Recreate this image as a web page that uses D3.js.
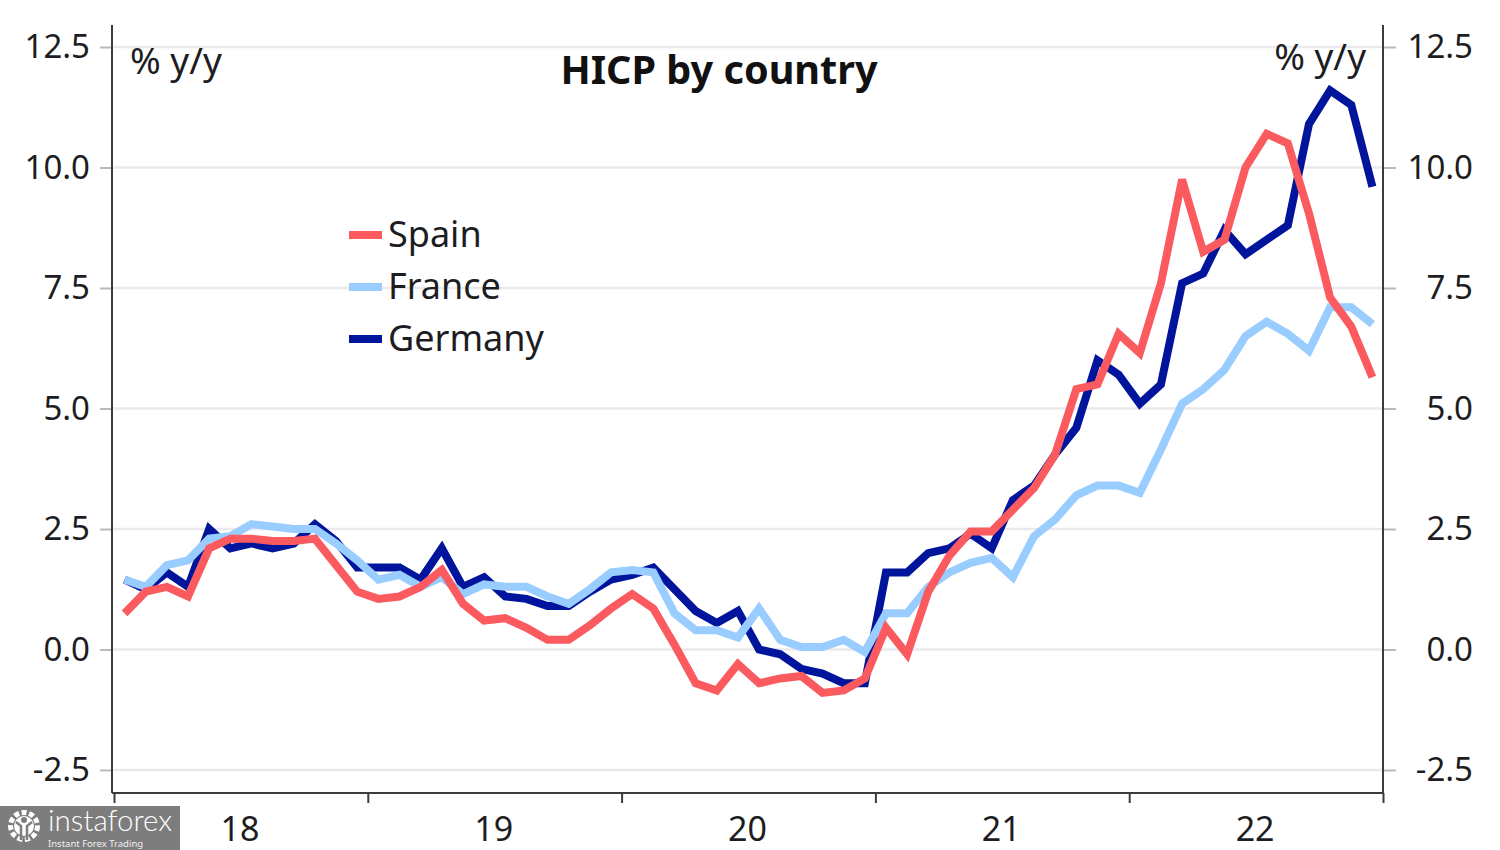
<!DOCTYPE html>
<html>
<head>
<meta charset="utf-8">
<script src="https://cdn.jsdelivr.net/npm/d3@7"></script>
<style>
  html, body { margin: 0; padding: 0; background: #fff; }
  svg { display: block; }
  text { font-family: "Noto Sans", sans-serif; fill: #1d1d1f; }
</style>
</head>
<body>
<div class="chart"></div>
<script>
// monthly values, Jan 18 to Dec 22
var spain = [0.75,1.2,1.3,1.1,2.1,2.3,2.3,2.25,2.25,2.3,1.75,1.2,
  1.05,1.1,1.3,1.65,0.95,0.6,0.65,0.45,0.2,0.2,0.5,0.85,
  1.15,0.85,0.1,-0.7,-0.85,-0.3,-0.7,-0.6,-0.55,-0.9,-0.85,-0.6,
  0.45,-0.1,1.2,1.95,2.45,2.45,2.9,3.35,4.05,5.4,5.5,6.55,
  6.15,7.6,9.75,8.25,8.5,10.0,10.7,10.5,9.05,7.3,6.7,5.65];
var france = [1.45,1.3,1.75,1.85,2.3,2.35,2.6,2.55,2.5,2.5,2.2,1.85,
  1.45,1.55,1.3,1.5,1.15,1.35,1.3,1.3,1.1,0.95,1.25,1.6,
  1.65,1.6,0.75,0.4,0.4,0.25,0.85,0.2,0.05,0.05,0.2,-0.05,
  0.75,0.75,1.3,1.6,1.8,1.9,1.5,2.35,2.7,3.2,3.4,3.4,
  3.25,4.15,5.1,5.4,5.8,6.5,6.8,6.55,6.2,7.1,7.1,6.75];
var germany = [1.45,1.25,1.6,1.3,2.5,2.1,2.2,2.1,2.2,2.6,2.25,1.7,
  1.7,1.7,1.45,2.1,1.3,1.5,1.1,1.05,0.9,0.9,1.2,1.45,
  1.55,1.7,1.25,0.8,0.55,0.8,0.0,-0.1,-0.4,-0.5,-0.7,-0.7,
  1.6,1.6,2.0,2.1,2.4,2.1,3.1,3.4,4.05,4.6,6.0,5.7,
  5.1,5.5,7.6,7.8,8.7,8.2,8.5,8.8,10.9,11.6,11.3,9.6];
var yTicks = [-2.5,0,2.5,5,7.5,10,12.5];
var yTickLabels = ['-2.5','0.0','2.5','5.0','7.5','10.0','12.5'];
var yearLabels = ['18','19','20','21','22'];
var legendNames = ['Spain','France','Germany'];
var legendColors = ['#fb5a5f','#99ccff','#00149c'];

var width = 1500;
var height = 850;
var axisColor = '#3c3c40';
var svg = d3.select('.chart')
            .append('svg')
            .attr('width', width)
            .attr('height', height);

// x runs in months, 0 = start of 2018, 60 = end of 2022
var x = d3.scaleLinear().domain([0, 60]).range([114, 1383]);
var y = d3.scaleLinear().domain([-2.5, 12.5]).range([770, 47]);

// grid
svg.append('g')
   .selectAll('line')
   .data(yTicks)
   .enter()
   .append('line')
   .attr('x1', 112)
   .attr('x2', 1383)
   .attr('y1', function(d) { return y(d); })
   .attr('y2', function(d) { return y(d); })
   .style('stroke', '#ebe9ed')
   .style('stroke-width', 2.5);

// left and right axes
var fmt = function(d) { return yTickLabels[yTicks.indexOf(d)]; };
var leftAxis = d3.axisLeft(y).tickValues(yTicks).tickFormat(fmt).tickSize(12).tickPadding(10);
var rightAxis = d3.axisRight(y).tickValues(yTicks).tickFormat(fmt).tickSize(13).tickPadding(14);

var gl = svg.append('g').attr('transform', 'translate(112,0)').call(leftAxis);
var gr = svg.append('g').attr('transform', 'translate(1383,0)').call(rightAxis);
[gl, gr].forEach(function(g) {
  g.select('.domain').remove();
  g.selectAll('.tick line').style('stroke', '#b9b8bc').style('stroke-width', 2);
  g.selectAll('text').style('font-size', '33px').style('fill', '#1d1d1f');
});
gl.selectAll('text').attr('x', -22).attr('text-anchor', 'end');
gr.selectAll('text').attr('x', 90).attr('text-anchor', 'end');

svg.append('line').attr('x1', 112).attr('x2', 112).attr('y1', 25).attr('y2', 793)
   .style('stroke', axisColor).style('stroke-width', 2);
svg.append('line').attr('x1', 1383).attr('x2', 1383).attr('y1', 25).attr('y2', 793)
   .style('stroke', axisColor).style('stroke-width', 2);

// bottom axis, year ticks and labels in the middle of each year
var xAxis = d3.axisBottom(x)
              .tickValues([0, 12, 24, 36, 48, 60])
              .tickFormat('')
              .tickSize(10);
var gx = svg.append('g').attr('transform', 'translate(0,793)').call(xAxis);
gx.select('.domain').remove();
gx.selectAll('.tick line').style('stroke', axisColor).style('stroke-width', 2);
svg.append('line').attr('x1', 112).attr('x2', 1384).attr('y1', 793).attr('y2', 793)
   .style('stroke', axisColor).style('stroke-width', 2);

svg.selectAll('.year')
   .data(yearLabels)
   .enter()
   .append('text')
   .attr('class', 'year')
   .attr('x', function(d, i) { return x(i * 12 + 6) - 1; })
   .attr('y', 841)
   .attr('text-anchor', 'middle')
   .style('font-size', '34px')
   .text(function(d) { return d; });

// series, red on top
var line = d3.line()
             .x(function(d, i) { return x(i + 0.5); })
             .y(function(d) { return y(d); })
             .curve(d3.curveLinear);

[[germany, legendColors[2]], [france, legendColors[1]], [spain, legendColors[0]]].forEach(function(s) {
  svg.append('path')
     .datum(s[0])
     .attr('d', line)
     .style('fill', 'none')
     .style('stroke', s[1])
     .style('stroke-width', 8)
     .style('stroke-linejoin', 'miter')
     .style('stroke-miterlimit', 3);
});

// legend
var legendY = [235, 287, 339];
var legend = svg.selectAll('.legend')
                .data(legendNames)
                .enter()
                .append('g')
                .attr('class', 'legend')
                .attr('transform', function(d, i) { return 'translate(349,' + legendY[i] + ')'; });
legend.append('line')
      .attr('x1', 0).attr('x2', 33)
      .style('stroke', function(d, i) { return legendColors[i]; })
      .style('stroke-width', 8);
legend.append('text')
      .attr('x', 39).attr('y', 12)
      .style('font-size', '36px')
      .text(function(d) { return d; });

// title and unit labels
svg.append('text').attr('x', 719).attr('y', 84)
   .attr('text-anchor', 'middle')
   .style('font-size', '39.6px').style('font-weight', 700)
   .style('fill', '#111')
   .text('HICP by country');
svg.append('text').attr('x', 130).attr('y', 74).style('font-size', '37px').text('% y/y');
svg.append('text').attr('x', 1366).attr('y', 70).attr('text-anchor', 'end').style('font-size', '37px').text('% y/y');

// watermark
var mark = svg.append('g');
mark.append('rect').attr('x', 0).attr('y', 806).attr('width', 180).attr('height', 44).style('fill', '#7d7d7d');
mark.append('circle').attr('cx', 24).attr('cy', 826).attr('r', 13.5)
    .style('fill', 'none').style('stroke', '#fff').style('stroke-width', 5).style('stroke-dasharray', '5 2.6');
mark.append('circle').attr('cx', 24).attr('cy', 826).attr('r', 10).style('fill', '#fff');
mark.append('path').attr('d', 'M16 822 L21 826 L21 840 M32 822 L27 826 L27 840')
    .style('fill', 'none').style('stroke', '#7d7d7d').style('stroke-width', 2.5);
mark.append('circle').attr('cx', 24).attr('cy', 820).attr('r', 3).style('fill', '#7d7d7d');
mark.append('text').attr('x', 48).attr('y', 831)
    .style('font-size', '29.5px').style('font-weight', 300).style('font-family', 'Lato, sans-serif').style('fill', '#fff')
    .text('instaforex');
mark.append('text').attr('x', 48).attr('y', 847)
    .style('font-size', '9.5px').style('fill', '#f0f0f0')
    .text('Instant Forex Trading');
</script>
</body>
</html>
